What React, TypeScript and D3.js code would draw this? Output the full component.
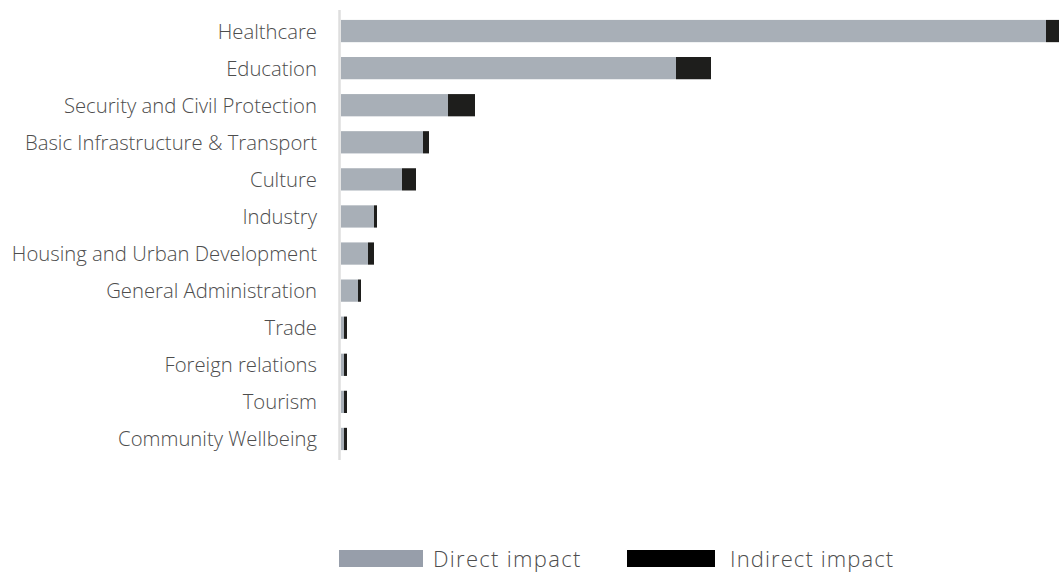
import React from "react";
import * as d3 from "d3";

const categories = [
  "Healthcare",
  "Education",
  "Security and Civil Protection",
  "Basic Infrastructure & Transport",
  "Culture",
  "Industry",
  "Housing and Urban Development",
  "General Administration",
  "Trade",
  "Foreign relations",
  "Tourism",
  "Community Wellbeing",
];
const directImpact = [705, 335, 107, 82, 61, 33, 27, 17, 3, 3, 3, 3];
const indirectImpact = [13, 35, 27, 6, 14, 3, 6, 3, 3, 3, 3, 3];
const legendLabels = ["Direct impact", "Indirect impact"];

const W = 1059;
const H = 573;
const FONT = "'Open Sans', sans-serif";

export default function App() {
  const x = d3.scaleLinear().domain([0, 718]).range([341, 1059]);
  const y = d3
    .scaleBand<string>()
    .domain(categories)
    .range([12.5, 457.5])
    .paddingInner(0.4)
    .paddingOuter(0.2);
  const bh = y.bandwidth();

  return (
    <svg
      width={W}
      height={H}
      style={{ position: "absolute", left: 0, top: 0, background: "#fff" }}
    >
      {categories.map((c, i) => {
        const y0 = y(c)!;
        const xd = x(directImpact[i]);
        const xi = x(directImpact[i] + indirectImpact[i]);
        return (
          <g key={c}>
            <rect x={x(0)} y={y0} width={xd - x(0)} height={bh} fill="#a8afb7" />
            <rect x={xd} y={y0} width={xi - xd} height={bh} fill="#1e1e1c" />
            <text
              x={317}
              y={y0 + bh / 2}
              dy="0.37em"
              textAnchor="end"
              fontFamily={FONT}
              fontSize={20.3}
              fontWeight={300}
              fill="#4d4d4d"
            >
              {c}
            </text>
          </g>
        );
      })}
      <line x1={339.5} x2={339.5} y1={10} y2={460} stroke="#dedede" strokeWidth={2.5} />
      <g>
        <rect x={339} y={550} width={84} height={17} fill="#979eaa" />
        <text x={433} y={567} fontFamily={FONT} fontSize={22} fontWeight={300} letterSpacing={1.3} fill="#4d4d4d">
          {legendLabels[0]}
        </text>
        <rect x={627} y={550} width={88} height={17} fill="#000" />
        <text x={730} y={567} fontFamily={FONT} fontSize={22} fontWeight={300} letterSpacing={1.1} fill="#4d4d4d">
          {legendLabels[1]}
        </text>
      </g>
    </svg>
  );
}
